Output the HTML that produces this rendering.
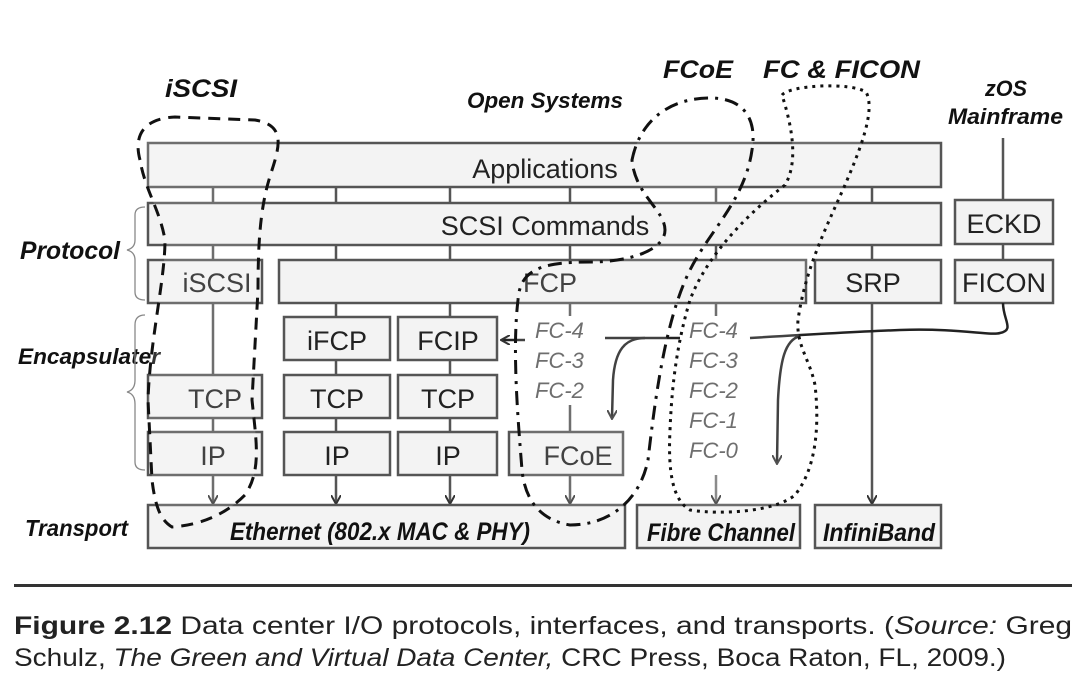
<!DOCTYPE html>
<html><head><meta charset="utf-8"><style>
html,body{margin:0;padding:0;background:#fff;}
svg{display:block;}
</style></head><body>
<svg width="1086" height="690" viewBox="0 0 1086 690" xmlns="http://www.w3.org/2000/svg" font-family="Liberation Sans, sans-serif">
<defs>
<marker id="ah" markerWidth="10" markerHeight="10" refX="8" refY="5" orient="auto" markerUnits="userSpaceOnUse">
<path d="M0,0 L9,5 L0,10" fill="none" stroke="#333" stroke-width="2"/>
</marker>
</defs>
<g stroke="#555" stroke-width="2.5" fill="none">
<line x1="213" y1="187" x2="213" y2="203"/><line x1="336" y1="187" x2="336" y2="203"/><line x1="450" y1="187" x2="450" y2="203"/><line x1="570" y1="187" x2="570" y2="203"/><line x1="716" y1="187" x2="716" y2="203"/><line x1="872" y1="187" x2="872" y2="203"/>
<line x1="213" y1="245" x2="213" y2="260"/><line x1="336" y1="245" x2="336" y2="260"/><line x1="450" y1="245" x2="450" y2="260"/><line x1="570" y1="245" x2="570" y2="260"/><line x1="716" y1="245" x2="716" y2="260"/><line x1="872" y1="245" x2="872" y2="260"/>
<line x1="1003" y1="138" x2="1003" y2="200"/><line x1="1003" y1="244" x2="1003" y2="260"/>
<line x1="213" y1="303" x2="213" y2="375"/>
<line x1="336" y1="303" x2="336" y2="317"/><line x1="450" y1="303" x2="450" y2="317"/>
<line x1="336" y1="360" x2="336" y2="375"/><line x1="450" y1="360" x2="450" y2="375"/>
<line x1="213" y1="418" x2="213" y2="432"/><line x1="336" y1="418" x2="336" y2="432"/><line x1="450" y1="418" x2="450" y2="432"/>
<line x1="570" y1="303" x2="570" y2="316"/><line x1="570" y1="405" x2="570" y2="432"/>
<line x1="716" y1="303" x2="716" y2="316"/>
<line x1="213" y1="475" x2="213" y2="503" marker-end="url(#ah)"/><line x1="336" y1="475" x2="336" y2="503" marker-end="url(#ah)"/><line x1="450" y1="475" x2="450" y2="503" marker-end="url(#ah)"/><line x1="570" y1="475" x2="570" y2="503" marker-end="url(#ah)"/>
<line x1="716" y1="475" x2="716" y2="503" stroke="#777" marker-end="url(#ah)"/>
<line x1="872" y1="303" x2="872" y2="503" marker-end="url(#ah)"/>
</g>
<g fill="#f3f3f3" stroke="#555" stroke-width="2.5">
<rect x="148" y="143" width="793" height="44"/>
<rect x="148" y="203" width="793" height="42"/>
<rect x="148" y="260" width="114" height="43"/>
<rect x="279" y="260" width="527" height="43"/>
<rect x="815" y="260" width="126" height="43"/>
<rect x="955" y="200" width="98" height="44"/>
<rect x="955" y="260" width="98" height="43"/>
<rect x="284" y="317" width="106" height="43"/><rect x="398" y="317" width="99" height="43"/>
<rect x="148" y="375" width="114" height="43"/><rect x="284" y="375" width="106" height="43"/><rect x="398" y="375" width="99" height="43"/>
<rect x="148" y="432" width="114" height="43"/><rect x="284" y="432" width="106" height="43"/><rect x="398" y="432" width="99" height="43"/><rect x="509" y="432" width="114" height="43"/>
<rect x="148" y="505" width="477" height="43"/><rect x="637" y="505" width="163" height="43"/><rect x="815" y="505" width="126" height="43"/>
</g>
<g fill="#222" font-size="27" text-anchor="middle">
<text x="545" y="178">Applications</text>
<text x="545" y="235">SCSI Commands</text>
<text x="217" y="292">iSCSI</text>
<text x="550" y="292">FCP</text>
<text x="873" y="292">SRP</text>
<text x="1004" y="233">ECKD</text>
<text x="1004" y="292">FICON</text>
<text x="337" y="350">iFCP</text><text x="448" y="350">FCIP</text>
<text x="215" y="408">TCP</text><text x="337" y="408">TCP</text><text x="448" y="408">TCP</text>
<text x="213" y="465">IP</text><text x="337" y="465">IP</text><text x="448" y="465">IP</text><text x="578" y="465">FCoE</text>
</g>
<g fill="#555" font-size="22" font-style="italic">
<text x="535" y="338">FC-4</text><text x="535" y="368">FC-3</text><text x="535" y="398">FC-2</text>
<text x="689" y="338">FC-4</text><text x="689" y="368">FC-3</text><text x="689" y="398">FC-2</text><text x="689" y="428">FC-1</text><text x="689" y="458">FC-0</text>
</g>
<g fill="#111" font-weight="bold" font-style="italic" font-size="25">
<text x="230" y="540" textLength="300" lengthAdjust="spacingAndGlyphs">Ethernet (802.x MAC &amp; PHY)</text>
<text x="647" y="541" textLength="148" lengthAdjust="spacingAndGlyphs">Fibre Channel</text>
<text x="823" y="541" textLength="112" lengthAdjust="spacingAndGlyphs">InfiniBand</text>
<text x="165" y="97" textLength="72" lengthAdjust="spacingAndGlyphs">iSCSI</text>
<text x="467" y="108" textLength="156" lengthAdjust="spacingAndGlyphs" font-size="22">Open Systems</text>
<text x="663" y="78" textLength="70" lengthAdjust="spacingAndGlyphs">FCoE</text>
<text x="763" y="78" textLength="157" lengthAdjust="spacingAndGlyphs">FC &amp; FICON</text>
<text x="985" y="96" textLength="42" lengthAdjust="spacingAndGlyphs" font-size="22">zOS</text>
<text x="948" y="124" textLength="115" lengthAdjust="spacingAndGlyphs" font-size="22">Mainframe</text>
<text x="20" y="259" textLength="100" lengthAdjust="spacingAndGlyphs">Protocol</text>
<text x="18" y="364" textLength="142" lengthAdjust="spacingAndGlyphs" font-size="22">Encapsulater</text>
<text x="25" y="536" textLength="103" lengthAdjust="spacingAndGlyphs" font-size="23">Transport</text>
</g>
<g stroke="#888" stroke-width="1.3" fill="none">
<path d="M145,207 Q135,207 135,215 L135,240 Q135,248 127,250 Q135,252 135,260 L135,292 Q135,300 145,300"/>
<path d="M145,315 Q135,315 135,325 L135,380 Q135,390 127,392 Q135,394 135,404 L135,462 Q135,470 145,470"/>
</g>
<g stroke="#222" stroke-width="2.5" fill="none">
<path d="M1003,303 C1003,320 1015,330 1000,333 C990,336 960,328 900,330 C850,332 800,335 750,338"/>
<path d="M800,336 C785,340 780,360 778,400 L777,463" marker-end="url(#ah)"/>
<path d="M680,338 L605,338"/>
<path d="M645,338 C625,338 615,350 613,380 L612,418" marker-end="url(#ah)"/>
<path d="M525,340 L502,340" marker-end="url(#ah)"/>
</g>
<g fill="rgba(255,255,255,0.15)" stroke="#111" stroke-width="3">
<path stroke-dasharray="12,8" d="M140,160 C132,130 150,118 175,117 L255,120 C285,125 280,145 272,170 C262,200 258,230 258,290 L252,400 C256,440 262,470 245,495 C225,515 200,525 172,527 C160,520 155,505 152,480 L148,400 C150,340 165,280 165,240 C160,210 145,190 140,160 Z"/>
<path stroke-dasharray="14,7,3,7" d="M632,160 C640,120 670,98 710,98 C745,98 757,120 752,150 C745,200 710,230 690,270 C665,320 655,400 648,460 C640,500 610,525 570,525 C540,520 525,500 522,470 C518,420 512,350 518,300 C520,270 540,262 590,262 C630,262 665,250 665,230 C665,210 635,195 632,160 Z"/>
<path stroke-dasharray="3,5" d="M782,95 C790,85 850,82 866,92 C876,110 860,150 845,185 C825,230 805,270 798,320 C796,345 810,360 815,385 C820,430 815,470 795,495 C775,512 720,515 690,510 C672,500 668,470 670,430 C672,380 678,340 690,300 C705,260 740,220 785,185 C800,160 790,120 782,95 Z"/>
</g>
<rect x="14" y="584" width="1058" height="3" fill="#333"/>
<g font-family="Liberation Sans, sans-serif" font-size="25" fill="#222">
<text x="14" y="634" textLength="1058" lengthAdjust="spacingAndGlyphs"><tspan font-weight="bold">Figure 2.12</tspan>   Data center I/O protocols, interfaces, and transports. (<tspan font-style="italic">Source:</tspan> Greg</text>
<text x="14" y="666" textLength="992" lengthAdjust="spacingAndGlyphs">Schulz, <tspan font-style="italic">The Green and Virtual Data Center,</tspan> CRC Press, Boca Raton, FL, 2009.)</text>
</g>
</svg>
</body></html>
